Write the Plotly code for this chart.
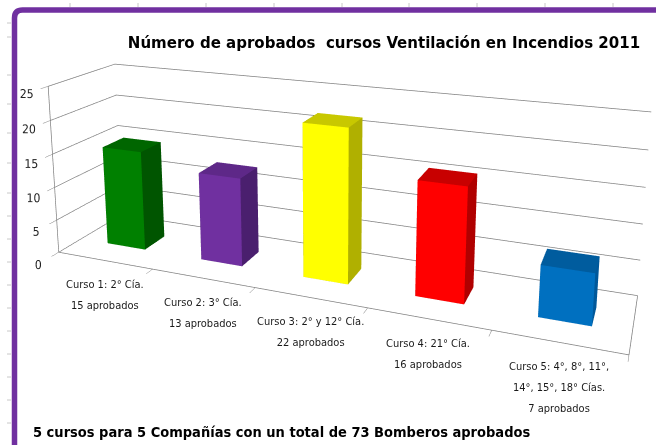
import plotly.graph_objects as go

# ---- data ----
categories = [
    "Curso 1: 2° Cía.<br>15 aprobados",
    "Curso 2: 3° Cía.<br>13 aprobados",
    "Curso 3: 2° y 12° Cía.<br>22 aprobados",
    "Curso 4: 21° Cía.<br>16 aprobados",
    "Curso 5: 4°, 8°, 11°,<br>14°, 15°, 18° Cías.<br>7 aprobados",
]
values = [15, 13, 22, 16, 7]
z_ticks = [0, 5, 10, 15, 20, 25]

title_text = "Número de aprobados  cursos Ventilación en Incendios 2011"
footer_text = "5 cursos para 5 Compañías con un total de 73 Bomberos aprobados"

# colors: front, top, side
bar_colors = [
    ("#008000", "#006600", "#005500"),
    ("#7030A0", "#5E2888", "#4A1F6E"),
    ("#FFFF00", "#C8C800", "#B0B000"),
    ("#FF0000", "#C80000", "#B00000"),
    ("#0070C0", "#005C9E", "#00589A"),
]

BAR_W = 0.41
DEPTH_LO, DEPTH_HI = 0.335, 0.665
COND = "DejaVu Sans Condensed, DejaVu Sans, sans-serif"

# visible window is 656x445; the figure is taller and its top part is scrolled
# out of view so that the 3D camera's centre of projection sits near the top,
# like the original Excel perspective.
W, VIS_H = 656, 445
TOP_HIDDEN = 320
HF = VIS_H + TOP_HIDDEN


def px(x):
    return x / W


def py(y):
    return 1 - (y + TOP_HIDDEN) / HF


fig = go.Figure()

for i, (v, cols) in enumerate(zip(values, bar_colors)):
    x0, x1 = i - BAR_W / 2, i + BAR_W / 2
    y0, y1 = DEPTH_LO, DEPTH_HI
    xs = [x0, x1, x1, x0, x0, x1, x1, x0]
    ys = [y0, y0, y1, y1, y0, y0, y1, y1]
    zs = [0, 0, 0, 0, v, v, v, v]
    tri = [
        (0, 1, 5), (0, 5, 4),   # front
        (1, 2, 6), (1, 6, 5),   # right
        (2, 3, 7), (2, 7, 6),   # back
        (3, 0, 4), (3, 4, 7),   # left
        (4, 5, 6), (4, 6, 7),   # top
        (0, 1, 2), (0, 2, 3),   # bottom
    ]
    front, top, side = cols
    fc = [front, front, side, side, side, side, side, side, top, top, side, side]
    fig.add_trace(go.Mesh3d(
        x=xs, y=ys, z=zs,
        i=[t[0] for t in tri], j=[t[1] for t in tri], k=[t[2] for t in tri],
        facecolor=fc, flatshading=True,
        lighting=dict(ambient=1, diffuse=0, specular=0, roughness=1, fresnel=0),
        hoverinfo="skip", showscale=False,
    ))

label_font = dict(family=COND, size=16, color="#1a1a1a")
annotations3d = [
    dict(x=i, y=0, z=0,
         text="<span style='font-size:11px'>" + t + "</span>",
         showarrow=False, xanchor="center", yanchor="top",
         yshift=-16, font=label_font)
    for i, t in enumerate(categories)
]

axis_common = dict(showbackground=False, showspikes=False, title=dict(text=""))

# faint spreadsheet cell marks outside the chart frame
sheet_rows = [23, 37, 75, 104, 133, 163, 193, 216, 239, 262, 285, 308, 331, 354, 377, 400, 423]
sheet_cols = [70, 138, 206, 274, 342, 409, 477, 545, 613]
shapes = []
for yy in sheet_rows:
    shapes.append(dict(type="line", xref="paper", yref="paper",
                       x0=px(7), x1=px(11), y0=py(yy), y1=py(yy),
                       line=dict(color="#c8c8c8", width=1)))
for xx in sheet_cols:
    shapes.append(dict(type="line", xref="paper", yref="paper",
                       x0=px(xx), x1=px(xx), y0=py(3), y1=py(7),
                       line=dict(color="#c8c8c8", width=1)))
fx, fy, r = 14.5, 10.0, 8.0
shapes.append(dict(
    type="path", xref="paper", yref="paper",
    path=(f"M {px(fx)} -0.05 L {px(fx)} {py(fy + r)} "
          f"Q {px(fx)} {py(fy)} {px(fx + r)} {py(fy)} L 1.05 {py(fy)}"),
    line=dict(color="#7030A0", width=5.5)))

GRID = "#808080"

fig.update_layout(
    width=W, height=HF,
    margin=dict(l=0, r=0, t=0, b=0),
    paper_bgcolor="white",
    showlegend=False,
    scene=dict(
        domain=dict(x=[0.0, 1.0], y=[0.0, 1.0]),
        aspectmode="manual",
        aspectratio=dict(x=3.6, y=0.735, z=1.127),
        xaxis=dict(range=[-0.5, 4.5], showgrid=False, zeroline=False, showline=True,
                   linecolor=GRID, linewidth=1.5, tickvals=[-0.5, 0.5, 1.5, 2.5, 3.5, 4.5],
                   showticklabels=False, ticks="outside", ticklen=4, tickcolor=GRID,
                   **axis_common),
        yaxis=dict(range=[0, 1], showgrid=False, zeroline=False, showline=True,
                   linecolor=GRID, linewidth=1.5, showticklabels=False, ticks="",
                   **axis_common),
        zaxis=dict(range=[0, 25], tickvals=z_ticks, showgrid=True, gridcolor=GRID,
                   gridwidth=1.5, zeroline=False, showline=True, linecolor=GRID,
                   linewidth=1.5, ticks="outside", ticklen=3, tickcolor=GRID,
                   tickangle=0,
                   tickfont=dict(family=COND, size=12, color="#222222"),
                   **axis_common),
        camera=dict(eye=dict(x=1.953, y=-5.037, z=1.913),
                    center=dict(x=0.159, y=-0.483, z=0.8905),
                    up=dict(x=0, y=0, z=1), projection=dict(type="perspective")),
        annotations=annotations3d,
        bgcolor="white",
    ),
    title=dict(text="<b>" + title_text + "</b>", x=px(384), xanchor="center",
               y=py(42), yanchor="middle",
               font=dict(family=COND, size=16.7, color="#000000")),
    annotations=[
        dict(text="<b>" + footer_text + "</b>", xref="paper", yref="paper",
             x=px(31), y=py(432), xanchor="left", yanchor="middle", showarrow=False,
             font=dict(family=COND, size=14.5, color="#000000")),
    ],
    shapes=shapes,
)

fig.write_html(
    "out.html", config={"displayModeBar": False},
    post_script=(f"document.body.style.margin='0px';"
                 f"document.body.style.marginTop='-{TOP_HIDDEN}px';"
                 f"document.body.style.overflow='hidden';"),
)
